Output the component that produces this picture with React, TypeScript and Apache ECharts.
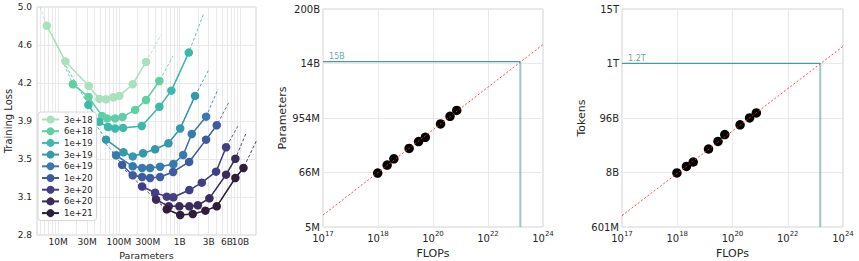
import React, { useEffect, useRef } from 'react';
import * as echarts from 'echarts';

// ---------- Left panel: IsoFLOP curves ----------
const BUDGETS = ['3e+18', '6e+18', '1e+19', '3e+19', '6e+19', '1e+20', '3e+20', '6e+20', '1e+21'];
const COLORS = ['#a8e1bc', '#5fcfa4', '#3cb9ab', '#3499a9', '#377aae', '#3f5b9f', '#413e84', '#3b2b5c', '#2e1e3b'];

const N_3E18 = [6.52e6, 1.32e7, 3.2e7, 4.78e7, 6.16e7, 8.12e7, 1.02e8, 1.69e8, 2.8e8];
const L_3E18 = [4.8, 4.455, 4.218, 4.093, 4.09, 4.109, 4.122, 4.235, 4.45];
const FIT_3E18 = [[5.06e6, 4.98], [4.94e8, 4.711]];

const N_6E18 = [1.75e7, 3.17e7, 5.29e7, 6.4e7, 8.66e7, 1.15e8, 1.85e8, 2.8e8, 4.63e8];
const L_6E18 = [4.235, 4.112, 3.929, 3.905, 3.905, 3.919, 3.987, 4.083, 4.266];
const FIT_6E18 = [[1.16e7, 4.469], [7.79e8, 4.508]];

const N_1E19 = [3.15e7, 4.73e7, 6.64e7, 8.66e7, 1.17e8, 2.38e8, 4.63e8, 7.3e8, 1.41e9];
const L_1E19 = [4.035, 3.871, 3.822, 3.808, 3.813, 3.832, 4.018, 4.173, 4.54];
const FIT_1E19 = [[1.35e7, 4.411], [2.52e9, 4.926]];

const N_3E19 = [6.15e7, 1.19e8, 1.69e8, 2.5e8, 3.94e8, 6.52e8, 1.02e9, 1.79e9];
const L_3E19 = [3.7, 3.578, 3.538, 3.569, 3.607, 3.665, 3.808, 4.122];
const FIT_3E19 = [[3.62e7, 3.9], [3.05e9, 4.382]];

const N_6E19 = [9.0e7, 1.69e8, 2.41e8, 3.26e8, 4.76e8, 7.87e8, 1.14e9, 1.58e9, 2.72e9];
const L_6E19 = [3.549, 3.443, 3.427, 3.427, 3.439, 3.465, 3.552, 3.755, 3.922];
const FIT_6E19 = [[5.3e7, 3.697], [4.28e9, 4.189]];

const N_1E20 = [1.13e8, 1.69e8, 2.41e8, 3.26e8, 4.76e8, 7.79e8, 1.43e9, 2.72e9, 4.07e9];
const L_1E20 = [3.456, 3.356, 3.34, 3.33, 3.34, 3.388, 3.485, 3.7, 3.839];
const FIT_1E20 = [[7.73e7, 3.581], [6.49e9, 4.064]];

const N_3E20 = [2.41e8, 3.94e8, 6.14e8, 7.87e8, 1.44e9, 2.31e9, 3.97e9, 5.8e9];
const L_3E20 = [3.248, 3.188, 3.15, 3.144, 3.214, 3.285, 3.391, 3.627];
const FIT_3E20 = [[1.26e8, 3.407], [9.03e9, 3.829]];

const N_6E20 = [4.09e8, 6.62e8, 9.89e8, 1.44e9, 1.99e9, 3.08e9, 5.8e9, 8.24e9];
const L_6E20 = [3.121, 3.057, 3.057, 3.057, 3.067, 3.134, 3.362, 3.516];
const FIT_6E20 = [[2.23e8, 3.263], [1.24e10, 3.765]];

const N_1E21 = [6.14e8, 1.02e9, 1.64e9, 2.65e9, 4.07e9, 8.24e9, 1.12e10];
const L_1E21 = [3.028, 2.973, 2.983, 3.015, 3.057, 3.33, 3.427];
const FIT_1E21 = [[3.52e8, 3.147], [1.81e10, 3.684]];

const CURVES = [
  { n: N_3E18, l: L_3E18, fit: FIT_3E18 },
  { n: N_6E18, l: L_6E18, fit: FIT_6E18 },
  { n: N_1E19, l: L_1E19, fit: FIT_1E19 },
  { n: N_3E19, l: L_3E19, fit: FIT_3E19 },
  { n: N_6E19, l: L_6E19, fit: FIT_6E19 },
  { n: N_1E20, l: L_1E20, fit: FIT_1E20 },
  { n: N_3E20, l: L_3E20, fit: FIT_3E20 },
  { n: N_6E20, l: L_6E20, fit: FIT_6E20 },
  { n: N_1E21, l: L_1E21, fit: FIT_1E21 },
];

// tick labels of the left x axis (the 6B label sits on a twin axis so both close labels are kept)
const X0_TICKS = [1e7, 3e7, 1e8, 3e8, 1e9, 3e9, 1e10];
const X0_LABELS = ['10M', '30M', '100M', '300M', '1B', '3B', '10B'];
const X0_EXTRA_TICKS = [6e9];
const X0_EXTRA_LABELS = ['6B'];
const Y0_LABELS = ['2.8', '3.1', '3.5', '3.9', '4.2', '4.6', '5.0'];

// ---------- Middle / right panels: compute-optimal points ----------
const FLOPS = [5.5e18, 1.1e19, 1.8e19, 5.5e19, 1.1e20, 1.8e20, 5.5e20, 1.1e21, 1.8e21];
const PARAMS_OPT = [6.4e7, 9.5e7, 1.29e8, 2.14e8, 3.0e8, 3.7e8, 7.1e8, 1.03e9, 1.38e9];
const TOKENS_OPT = [7.4e9, 1.0e10, 1.23e10, 2.25e10, 3.2e10, 4.4e10, 6.9e10, 9.5e10, 1.2e11];
const PARAM_FIT = [[1e17, 8.2e6], [1e24, 3.47e10]];
const TOKEN_FIT = [[1e17, 1.02e9], [1e24, 2.64e12]];
const TARGET_FLOPS = 1.9e23;
const TARGET_PARAMS = 1.5e10;
const TARGET_PARAMS_LABEL = '15B';
const TARGET_TOKENS = 1.2e12;
const TARGET_TOKENS_LABEL = '1.2T';
const FLOP_EXP_LABELS = ['17', '18', '20', '22', '24'];
const PARAM_TICK_LABELS = ['5M', '66M', '954M', '14B', '200B'];
const TOKEN_TICK_LABELS = ['601M', '8B', '96B', '1T', '15T'];

// axis ranges
const X0_MIN = 4.5e6, X0_MAX = 1.8e10;
const Y0_MIN = 2.78, Y0_MAX = 4.98;
const F_MIN = 1e17, F_MAX = 1e24;
const P_MIN = 4.57e6, P_MAX = 1.976e11;
const T_MIN = 6.01e8, T_MAX = 1.5e13;

const FONT = 'DejaVu Sans';
const TXT = '#262626';
const GRIDC = '#e9e9e9';
const BORDER = '#d2d2d2';

function geomTicks(min: number, max: number, n: number) {
  const out: number[] = [];
  for (let k = 0; k < n; k++) out.push(min * Math.pow(max / min, k / (n - 1)));
  out[0] = min * (1 + 1e-9);
  out[n - 1] = max * (1 - 1e-9);
  return out;
}
function linTicks(min: number, max: number, n: number) {
  const out: number[] = [];
  for (let k = 0; k < n; k++) out.push(min + ((max - min) * k) / (n - 1));
  out[0] = min + 1e-9;
  out[n - 1] = max - 1e-9;
  return out;
}
function nearest(arr: number[], v: number, log: boolean) {
  let best = 0, bd = Infinity;
  arr.forEach((a, i) => {
    const d = log ? Math.abs(Math.log10(a) - Math.log10(v)) : Math.abs(a - v);
    if (d < bd) { bd = d; best = i; }
  });
  return best;
}
function minorLogGrid(min: number, max: number) {
  const out: number[] = [];
  for (let e = Math.floor(Math.log10(min)); e <= Math.ceil(Math.log10(max)); e++) {
    for (let m = 1; m <= 9; m++) {
      const v = m * Math.pow(10, e);
      if (v > min && v < max) out.push(v);
    }
  }
  return out;
}

export default function App() {
  const ref = useRef<HTMLDivElement>(null);
  useEffect(() => {
    if (!ref.current) return;
    const chart = echarts.init(ref.current, undefined, { renderer: 'svg' });

    const Y0_TICKS = linTicks(Y0_MIN, Y0_MAX, 7);
    const X0_GRID = minorLogGrid(X0_MIN, X0_MAX);
    const F_TICKS = geomTicks(F_MIN, F_MAX, 5);
    const P_TICKS = geomTicks(P_MIN, P_MAX, 5);
    const T_TICKS = geomTicks(T_MIN, T_MAX, 5);

    const series: any[] = [];
    CURVES.forEach((c, i) => {
      const pts = c.n.map((n, j) => [n, c.l[j]]);
      series.push({
        type: 'line', name: BUDGETS[i] + ' fit', xAxisIndex: 0, yAxisIndex: 0,
        data: [c.fit[0], ...pts, c.fit[1]], symbol: 'none', silent: true,
        lineStyle: { color: COLORS[i], width: 1, type: [3, 2], opacity: 0.85 },
      });
      series.push({
        type: 'line', name: BUDGETS[i], xAxisIndex: 0, yAxisIndex: 0,
        data: pts, symbol: 'circle', symbolSize: 8.5,
        lineStyle: { color: COLORS[i], width: 1.5 },
        itemStyle: { color: COLORS[i], opacity: 1 },
      });
    });

    const panel = (xi: number, fit: number[][], yMin: number, target: number, label: string, ys: number[]) => {
      series.push({
        type: 'line', xAxisIndex: xi, yAxisIndex: xi, data: fit, symbol: 'none', silent: true,
        lineStyle: { color: 'rgba(255,40,40,0.85)', width: 1, type: [2, 2] },
      });
      series.push({
        type: 'line', xAxisIndex: xi, yAxisIndex: xi, symbol: 'none', silent: true,
        data: [[TARGET_FLOPS, yMin], [TARGET_FLOPS, target]],
        lineStyle: { color: 'rgba(95,160,162,0.6)', width: 2 },
      });
      series.push({
        type: 'line', xAxisIndex: xi, yAxisIndex: xi, symbol: 'none', silent: true,
        data: [[F_MIN, target], [TARGET_FLOPS, target]],
        lineStyle: { color: '#4b9a9a', width: 1.3 },
      });
      series.push({
        type: 'scatter', xAxisIndex: xi, yAxisIndex: xi, symbolSize: 9.5,
        data: FLOPS.map((f, j) => [f, ys[j]]),
        itemStyle: { color: '#000000', opacity: 1 },
      });
      series.push({
        type: 'scatter', xAxisIndex: xi, yAxisIndex: xi, symbolSize: 0.1, silent: true,
        data: [[F_MIN, target]],
        label: {
          show: true, formatter: label, position: 'right', offset: [1, -5],
          fontSize: 8, color: '#3a8f8f', fontFamily: FONT,
        },
      });
    };
    panel(1, PARAM_FIT, P_MIN, TARGET_PARAMS, TARGET_PARAMS_LABEL, PARAMS_OPT);
    panel(2, TOKEN_FIT, T_MIN, TARGET_TOKENS, TARGET_TOKENS_LABEL, TOKENS_OPT);

    const gridBase = { show: true, borderColor: BORDER, borderWidth: 1, outerBoundsMode: 'none', containLabel: false };
    const flopAxis = (gi: number) => ({
      type: 'log', gridIndex: gi, min: F_MIN, max: F_MAX, logBase: 10,
      axisLine: { show: false },
      axisTick: { show: false, customValues: F_TICKS },
      splitLine: { show: true, lineStyle: { color: GRIDC, width: 1 } },
      axisLabel: {
        customValues: F_TICKS, margin: 3, hideOverlap: false,
        formatter: (v: number) => '{b|10}{s|' + FLOP_EXP_LABELS[nearest(F_TICKS, v, true)] + '}',
        rich: {
          b: { fontSize: 10, color: TXT, fontFamily: FONT, verticalAlign: 'bottom', lineHeight: 13 },
          s: { fontSize: 7, color: TXT, fontFamily: FONT, verticalAlign: 'top', lineHeight: 13 },
        },
      },
      name: 'FLOPs', nameLocation: 'middle', nameGap: 12,
      nameTextStyle: { fontSize: 11, color: TXT, fontFamily: FONT },
    });
    const logYAxis = (gi: number, min: number, max: number, ticks: number[], labels: string[], name: string) => ({
      type: 'log', gridIndex: gi, min, max, logBase: 10,
      axisLine: { show: false },
      axisTick: { show: false, customValues: ticks },
      splitLine: { show: true, lineStyle: { color: GRIDC, width: 1 } },
      axisLabel: {
        customValues: ticks, margin: 3, fontSize: 10, color: TXT, fontFamily: FONT, hideOverlap: false,
        formatter: (v: number) => labels[nearest(ticks, v, true)],
      },
      name, nameLocation: 'middle', nameGap: 35,
      nameTextStyle: { fontSize: 11, color: TXT, fontFamily: FONT },
    });

    chart.setOption({
      animation: false,
      backgroundColor: '#ffffff',
      textStyle: { fontFamily: FONT },
      grid: [
        { ...gridBase, left: 37, top: 7, width: 219, height: 228 },
        { ...gridBase, left: 323, top: 9, width: 220, height: 218 },
        { ...gridBase, left: 622, top: 9, width: 221, height: 218 },
      ],
      legend: {
        data: BUDGETS, orient: 'vertical', left: 38, top: 112,
        backgroundColor: '#ffffff', borderColor: '#d6d6d6', borderWidth: 1, borderRadius: 3,
        padding: [3, 4, 3, 3], itemWidth: 17, itemHeight: 10, itemGap: 2.7, itemTextGap: 5,
        textStyle: { fontSize: 8.5, color: TXT, fontFamily: FONT },
        selectedMode: false,
      },
      xAxis: [
        {
          type: 'log', gridIndex: 0, min: X0_MIN, max: X0_MAX, logBase: 10, position: 'bottom',
          axisLine: { show: false },
          axisTick: { show: false, customValues: X0_GRID },
          splitLine: { show: true, lineStyle: { color: GRIDC, width: 1 } },
          axisLabel: {
            customValues: X0_TICKS, margin: 2, fontSize: 9, color: TXT, fontFamily: FONT,
            hideOverlap: false,
            formatter: (v: number) => X0_LABELS[nearest(X0_TICKS, v, true)],
          },
          name: 'Parameters', nameLocation: 'middle', nameGap: 6,
          nameTextStyle: { fontSize: 9.5, color: TXT, fontFamily: FONT },
        },
        flopAxis(1),
        flopAxis(2),
        {
          type: 'log', gridIndex: 0, min: X0_MIN, max: X0_MAX, logBase: 10, position: 'bottom', offset: 0,
          axisLine: { show: false },
          axisTick: { show: false, customValues: X0_EXTRA_TICKS },
          splitLine: { show: false },
          axisLabel: {
            customValues: X0_EXTRA_TICKS, margin: 2, fontSize: 9, color: TXT, fontFamily: FONT,
            formatter: (v: number) => X0_EXTRA_LABELS[nearest(X0_EXTRA_TICKS, v, true)],
          },
        },
      ],
      yAxis: [
        {
          type: 'value', gridIndex: 0, min: Y0_MIN, max: Y0_MAX,
          axisLine: { show: false },
          axisTick: { show: false, customValues: Y0_TICKS },
          splitLine: { show: true, lineStyle: { color: GRIDC, width: 1 } },
          axisLabel: {
            customValues: Y0_TICKS, margin: 5, fontSize: 9, color: TXT, fontFamily: FONT, hideOverlap: false,
            formatter: (v: number) => Y0_LABELS[nearest(Y0_TICKS, v, false)],
          },
          name: 'Training Loss', nameLocation: 'middle', nameGap: 23,
          nameTextStyle: { fontSize: 10, color: TXT, fontFamily: FONT },
        },
        logYAxis(1, P_MIN, P_MAX, P_TICKS, PARAM_TICK_LABELS, 'Parameters'),
        logYAxis(2, T_MIN, T_MAX, T_TICKS, TOKEN_TICK_LABELS, 'Tokens'),
      ],
      series,
    });
    return () => chart.dispose();
  }, []);
  return <div ref={ref} style={{ position: 'absolute', left: 0, top: 0, width: 859, height: 261 }} />;
}
